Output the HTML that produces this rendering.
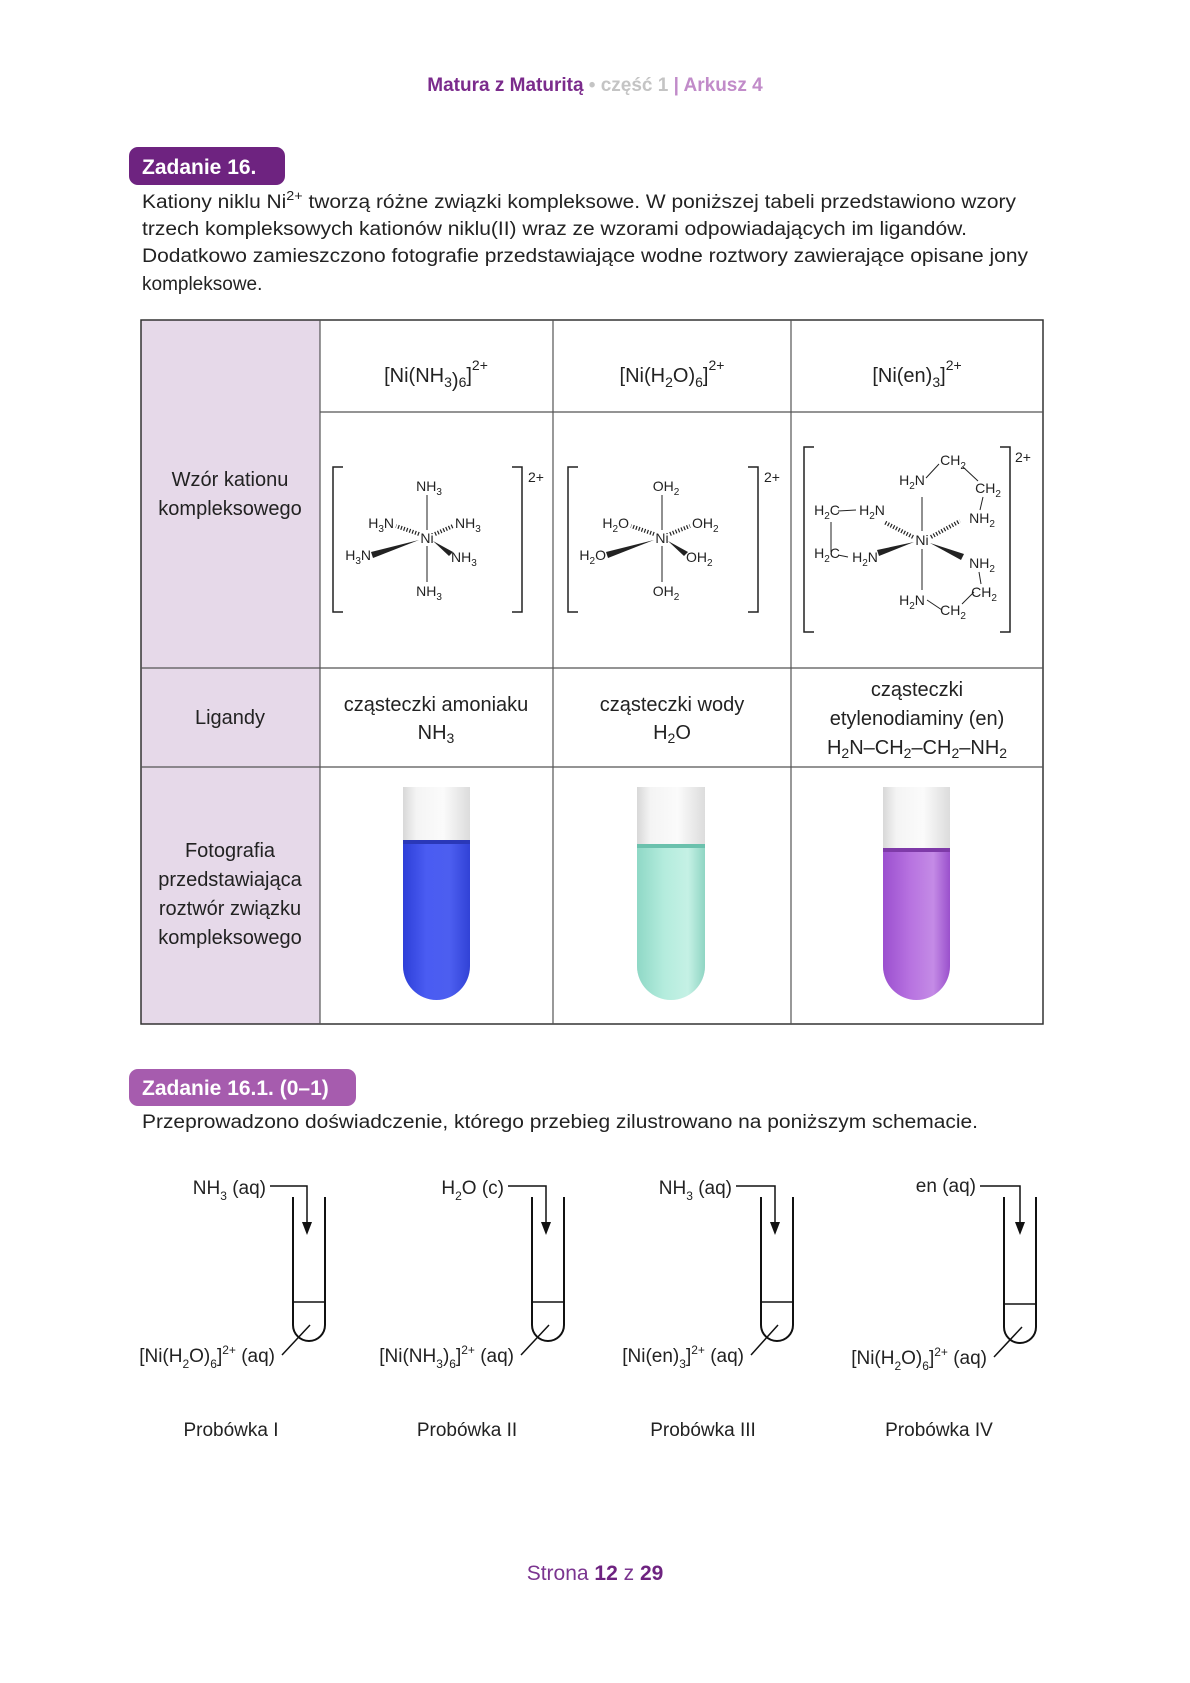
<!DOCTYPE html>
<html><head><meta charset="utf-8">
<style>
html,body{margin:0;padding:0;background:#fff;}
svg{display:block;}
text{font-family:"Liberation Sans",sans-serif;}
</style></head>
<body>
<svg width="1190" height="1683" viewBox="0 0 1190 1683" xmlns="http://www.w3.org/2000/svg">
<defs>
<linearGradient id="glass" x1="0" x2="1" y1="0" y2="0">
<stop offset="0" stop-color="#d8d8d8"/><stop offset="0.2" stop-color="#f4f4f4"/><stop offset="0.6" stop-color="#fbfbfb"/><stop offset="1" stop-color="#dcdcdc"/></linearGradient>
<linearGradient id="blue" x1="0" x2="1"><stop offset="0" stop-color="#2d3fd8"/><stop offset="0.35" stop-color="#4a5cf2"/><stop offset="0.7" stop-color="#4c5ef0"/><stop offset="1" stop-color="#3142d6"/></linearGradient>
<linearGradient id="green" x1="0" x2="1"><stop offset="0" stop-color="#8fd8c6"/><stop offset="0.4" stop-color="#b4ecdd"/><stop offset="0.75" stop-color="#c5f1e5"/><stop offset="1" stop-color="#8fd5c3"/></linearGradient>
<linearGradient id="violet" x1="0" x2="1"><stop offset="0" stop-color="#9b4fcf"/><stop offset="0.4" stop-color="#b772e0"/><stop offset="0.75" stop-color="#c48be6"/><stop offset="1" stop-color="#9a50cc"/></linearGradient>
</defs>

<!-- header -->
<text x="595" y="91" text-anchor="middle" font-size="19" font-weight="bold"><tspan fill="#7b2b8c">Matura z Maturitą</tspan><tspan fill="#c4c4c4"> • część 1 </tspan><tspan fill="#c18bc9">| Arkusz 4</tspan></text>

<!-- badge 1 -->
<rect x="129" y="147" width="156" height="38" rx="9" fill="#6e2380"/>
<text x="142" y="174" font-size="21" font-weight="bold" fill="#fff">Zadanie 16.</text>

<g font-size="19" fill="#222">
<text x="142" y="208" textLength="874" lengthAdjust="spacingAndGlyphs">Kationy niklu Ni<tspan dy="-8" font-size="13">2+</tspan><tspan dy="8"> tworzą różne związki kompleksowe. W poniższej tabeli przedstawiono wzory</tspan></text>
<text x="142" y="235" textLength="825" lengthAdjust="spacingAndGlyphs">trzech kompleksowych kationów niklu(II) wraz ze wzorami odpowiadających im ligandów.</text>
<text x="142" y="262" textLength="886" lengthAdjust="spacingAndGlyphs">Dodatkowo zamieszczono fotografie przedstawiające wodne roztwory zawierające opisane jony</text>
<text x="142" y="290">kompleksowe.</text>
</g>

<!-- table -->
<rect x="141" y="320" width="179" height="704" fill="#e6d9e9"/>
<g stroke="#555" stroke-width="1.2" fill="none">
<rect x="141" y="320" width="902" height="704" stroke="#333" stroke-width="1.5"/>
<line x1="320" y1="320" x2="320" y2="1024"/>
<line x1="553" y1="320" x2="553" y2="1024"/>
<line x1="791" y1="320" x2="791" y2="1024"/>
<line x1="320" y1="412" x2="1043" y2="412"/>
<line x1="141" y1="668" x2="1043" y2="668"/>
<line x1="141" y1="767" x2="1043" y2="767"/>
</g>

<g font-size="20" fill="#222" text-anchor="middle">
<text x="436" y="382">[Ni(NH<tspan dy="5" font-size="14">3</tspan><tspan dy="0">)</tspan><tspan dy="0" font-size="14">6</tspan><tspan dy="-5">]</tspan><tspan dy="-12" font-size="14">2+</tspan></text>
<text x="672" y="382">[Ni(H<tspan dy="5" font-size="14">2</tspan><tspan dy="-5">O)</tspan><tspan dy="5" font-size="14">6</tspan><tspan dy="-5">]</tspan><tspan dy="-12" font-size="14">2+</tspan></text>
<text x="917" y="382">[Ni(en)<tspan dy="5" font-size="14">3</tspan><tspan dy="-5">]</tspan><tspan dy="-12" font-size="14">2+</tspan></text>

<text x="230" y="486">Wzór kationu</text>
<text x="230" y="515">kompleksowego</text>
<text x="230" y="724">Ligandy</text>
<text x="436" y="711">cząsteczki amoniaku</text>
<text x="436" y="739">NH<tspan dy="4" font-size="14">3</tspan></text>
<text x="672" y="711">cząsteczki wody</text>
<text x="672" y="739">H<tspan dy="4" font-size="14">2</tspan><tspan dy="-4">O</tspan></text>
<text x="917" y="696">cząsteczki</text>
<text x="917" y="725">etylenodiaminy (en)</text>
<text x="917" y="754">H<tspan dy="4" font-size="14">2</tspan><tspan dy="-4">N–CH</tspan><tspan dy="4" font-size="14">2</tspan><tspan dy="-4">–CH</tspan><tspan dy="4" font-size="14">2</tspan><tspan dy="-4">–NH</tspan><tspan dy="4" font-size="14">2</tspan></text>
<text x="230" y="857">Fotografia</text>
<text x="230" y="886">przedstawiająca</text>
<text x="230" y="915">roztwór związku</text>
<text x="230" y="944">kompleksowego</text>
</g>

<!-- molecule 1 -->
<g transform="translate(427,538)" font-size="14" fill="#222" stroke="#222">
<path d="M-84,-71 h-10 v145 h10 M85,-71 h10 v145 h-10" fill="none" stroke-width="1.5"/>
<text x="101" y="-56" stroke="none">2+</text>
<text x="0" y="5" text-anchor="middle" stroke="none">Ni</text>
<line x1="0" y1="-43" x2="0" y2="-8" stroke-width="1"/>
<line x1="0" y1="8" x2="0" y2="44" stroke-width="1"/>
<text x="2" y="-47" text-anchor="middle" stroke="none">NH<tspan dy="4" font-size="10">3</tspan></text>
<text x="2" y="58" text-anchor="middle" stroke="none">NH<tspan dy="4" font-size="10">3</tspan></text>
<text x="-33" y="-10" text-anchor="end" stroke="none">H<tspan dy="4" font-size="10">3</tspan><tspan dy="-4">N</tspan></text>
<text x="28" y="-10" stroke="none">NH<tspan dy="4" font-size="10">3</tspan></text>
<text x="-56" y="22" text-anchor="end" stroke="none">H<tspan dy="4" font-size="10">3</tspan><tspan dy="-4">N</tspan></text>
<text x="24" y="24" stroke="none">NH<tspan dy="4" font-size="10">3</tspan></text>
<line x1="-8" y1="-4" x2="-31" y2="-12" stroke-width="4" stroke-dasharray="1.2 1.8"/>
<line x1="8" y1="-4" x2="26" y2="-12" stroke-width="4" stroke-dasharray="1.2 1.8"/>
<polygon points="-8,2 -56,14 -54,20" stroke="none"/>
<polygon points="6,3 26,14 22,18" stroke="none"/>
</g>

<!-- molecule 2 -->
<g transform="translate(662,538)" font-size="14" fill="#222" stroke="#222">
<path d="M-84,-71 h-10 v145 h10 M86,-71 h10 v145 h-10" fill="none" stroke-width="1.5"/>
<text x="102" y="-56" stroke="none">2+</text>
<text x="0" y="5" text-anchor="middle" stroke="none">Ni</text>
<line x1="0" y1="-43" x2="0" y2="-8" stroke-width="1"/>
<line x1="0" y1="8" x2="0" y2="44" stroke-width="1"/>
<text x="4" y="-47" text-anchor="middle" stroke="none">OH<tspan dy="4" font-size="10">2</tspan></text>
<text x="4" y="58" text-anchor="middle" stroke="none">OH<tspan dy="4" font-size="10">2</tspan></text>
<text x="-33" y="-10" text-anchor="end" stroke="none">H<tspan dy="4" font-size="10">2</tspan><tspan dy="-4">O</tspan></text>
<text x="30" y="-10" stroke="none">OH<tspan dy="4" font-size="10">2</tspan></text>
<text x="-56" y="22" text-anchor="end" stroke="none">H<tspan dy="4" font-size="10">2</tspan><tspan dy="-4">O</tspan></text>
<text x="24" y="24" stroke="none">OH<tspan dy="4" font-size="10">2</tspan></text>
<line x1="-8" y1="-4" x2="-31" y2="-12" stroke-width="4" stroke-dasharray="1.2 1.8"/>
<line x1="8" y1="-4" x2="28" y2="-12" stroke-width="4" stroke-dasharray="1.2 1.8"/>
<polygon points="-8,2 -56,14 -54,20" stroke="none"/>
<polygon points="6,3 26,14 22,18" stroke="none"/>
</g>

<!-- molecule 3 -->
<g transform="translate(922,540)" font-size="14" fill="#222" stroke="#222">
<path d="M-108,-93 h-10 v185 h10 M78,-93 h10 v185 h-10" fill="none" stroke-width="1.5"/>
<text x="93" y="-78" stroke="none">2+</text>
<text x="0" y="5" text-anchor="middle" stroke="none">Ni</text>
<line x1="0" y1="-43" x2="0" y2="-9" stroke-width="1"/>
<line x1="0" y1="9" x2="0" y2="50" stroke-width="1"/>
<g stroke="none" text-anchor="middle">
<text x="-10" y="-55">H<tspan dy="4" font-size="10">2</tspan><tspan dy="-4">N</tspan></text>
<text x="31" y="-75">CH<tspan dy="4" font-size="10">2</tspan></text>
<text x="66" y="-47">CH<tspan dy="4" font-size="10">2</tspan></text>
<text x="60" y="-17">NH<tspan dy="4" font-size="10">2</tspan></text>
<text x="-50" y="-25">H<tspan dy="4" font-size="10">2</tspan><tspan dy="-4">N</tspan></text>
<text x="-95" y="-25">H<tspan dy="4" font-size="10">2</tspan><tspan dy="-4">C</tspan></text>
<text x="-95" y="18">H<tspan dy="4" font-size="10">2</tspan><tspan dy="-4">C</tspan></text>
<text x="-57" y="22">H<tspan dy="4" font-size="10">2</tspan><tspan dy="-4">N</tspan></text>
<text x="60" y="28">NH<tspan dy="4" font-size="10">2</tspan></text>
<text x="62" y="57">CH<tspan dy="4" font-size="10">2</tspan></text>
<text x="-10" y="65">H<tspan dy="4" font-size="10">2</tspan><tspan dy="-4">N</tspan></text>
<text x="31" y="75">CH<tspan dy="4" font-size="10">2</tspan></text>
</g>
<g stroke-width="1" fill="none">
<line x1="4" y1="-62" x2="17" y2="-76"/>
<line x1="41" y1="-73" x2="56" y2="-59"/>
<line x1="61" y1="-43" x2="58" y2="-30"/>
<line x1="-84" y1="-29" x2="-66" y2="-30"/>
<line x1="-91" y1="-18" x2="-91" y2="12"/>
<line x1="-84" y1="15" x2="-74" y2="17"/>
<line x1="57" y1="32" x2="59" y2="44"/>
<line x1="52" y1="52" x2="40" y2="64"/>
<line x1="5" y1="60" x2="20" y2="70"/>
</g>
<line x1="-9" y1="-3" x2="-38" y2="-18" stroke-width="4" stroke-dasharray="1.2 1.8"/>
<line x1="9" y1="-3" x2="38" y2="-19" stroke-width="4" stroke-dasharray="1.2 1.8"/>
<polygon points="-8,2 -45,10 -43,16" stroke="none"/>
<polygon points="8,3 42,14 39,20" stroke="none"/>
</g>

<!-- photo tubes -->
<g>
<path d="M403,787 V966 A33.5,34 0 0 0 470,966 V787 Z" fill="url(#glass)"/>
<path d="M403,842 V966 A33.5,34 0 0 0 470,966 V842 Z" fill="url(#blue)"/>
<rect x="403" y="840" width="67" height="4" fill="#2a38b8"/>
<path d="M637,787 V966 A34,34 0 0 0 705,966 V787 Z" fill="url(#glass)"/>
<path d="M637,846 V966 A34,34 0 0 0 705,966 V846 Z" fill="url(#green)"/>
<rect x="637" y="844" width="68" height="4" fill="#6bc1ad"/>
<path d="M883,787 V966 A33.5,34 0 0 0 950,966 V787 Z" fill="url(#glass)"/>
<path d="M883,850 V966 A33.5,34 0 0 0 950,966 V850 Z" fill="url(#violet)"/>
<rect x="883" y="848" width="67" height="4" fill="#7e3aa8"/>
</g>

<!-- badge 2 -->
<rect x="129" y="1069" width="227" height="37" rx="9" fill="#a65cae"/>
<text x="142" y="1095" font-size="21" font-weight="bold" fill="#fff">Zadanie 16.1. (0–1)</text>
<text x="142" y="1128" font-size="19" fill="#222" textLength="836" lengthAdjust="spacingAndGlyphs">Przeprowadzono doświadczenie, którego przebieg zilustrowano na poniższym schemacie.</text>

<!-- experiment tubes -->
<g fill="none" stroke="#111" stroke-width="2">
<path d="M293,1197 V1325 A16,16 0 0 0 325,1325 V1197"/><line x1="293" y1="1302" x2="325" y2="1302" stroke-width="1.5"/>
<path d="M532,1197 V1325 A16,16 0 0 0 564,1325 V1197"/><line x1="532" y1="1302" x2="564" y2="1302" stroke-width="1.5"/>
<path d="M761,1197 V1325 A16,16 0 0 0 793,1325 V1197"/><line x1="761" y1="1302" x2="793" y2="1302" stroke-width="1.5"/>
<path d="M1004,1197 V1327 A16,16 0 0 0 1036,1327 V1197"/><line x1="1004" y1="1304" x2="1036" y2="1304" stroke-width="1.5"/>
<g stroke-width="1.5">
<path d="M270,1186 H307 V1224"/>
<path d="M508,1186 H546 V1224"/>
<path d="M736,1186 H775 V1224"/>
<path d="M980,1186 H1020 V1224"/>
<line x1="282" y1="1355" x2="310" y2="1325"/>
<line x1="521" y1="1355" x2="549" y2="1325"/>
<line x1="751" y1="1355" x2="778" y2="1325"/>
<line x1="994" y1="1357" x2="1022" y2="1327"/>
</g>
</g>
<g fill="#111">
<polygon points="302,1222 312,1222 307,1235"/>
<polygon points="541,1222 551,1222 546,1235"/>
<polygon points="770,1222 780,1222 775,1235"/>
<polygon points="1015,1222 1025,1222 1020,1235"/>
</g>
<g font-size="19" fill="#222">
<text x="266" y="1194" text-anchor="end">NH<tspan dy="6" font-size="12">3</tspan><tspan dy="-6"> (aq)</tspan></text>
<text x="504" y="1194" text-anchor="end">H<tspan dy="6" font-size="12">2</tspan><tspan dy="-6">O (c)</tspan></text>
<text x="732" y="1194" text-anchor="end">NH<tspan dy="6" font-size="12">3</tspan><tspan dy="-6"> (aq)</tspan></text>
<text x="976" y="1192" text-anchor="end">en (aq)</text>
<text x="275" y="1362" text-anchor="end">[Ni(H<tspan dy="6" font-size="12">2</tspan><tspan dy="-6">O)</tspan><tspan dy="6" font-size="12">6</tspan><tspan dy="-6">]</tspan><tspan dy="-8" font-size="12">2+</tspan><tspan dy="8"> (aq)</tspan></text>
<text x="514" y="1362" text-anchor="end">[Ni(NH<tspan dy="6" font-size="12">3</tspan><tspan dy="-6">)</tspan><tspan dy="6" font-size="12">6</tspan><tspan dy="-6">]</tspan><tspan dy="-8" font-size="12">2+</tspan><tspan dy="8"> (aq)</tspan></text>
<text x="744" y="1362" text-anchor="end">[Ni(en)<tspan dy="6" font-size="12">3</tspan><tspan dy="-6">]</tspan><tspan dy="-8" font-size="12">2+</tspan><tspan dy="8"> (aq)</tspan></text>
<text x="987" y="1364" text-anchor="end">[Ni(H<tspan dy="6" font-size="12">2</tspan><tspan dy="-6">O)</tspan><tspan dy="6" font-size="12">6</tspan><tspan dy="-6">]</tspan><tspan dy="-8" font-size="12">2+</tspan><tspan dy="8"> (aq)</tspan></text>
<g text-anchor="middle">
<text x="231" y="1436">Probówka I</text>
<text x="467" y="1436">Probówka II</text>
<text x="703" y="1436">Probówka III</text>
<text x="939" y="1436">Probówka IV</text>
</g>
</g>

<!-- footer -->
<text x="595" y="1580" text-anchor="middle" font-size="21" fill="#7b3590">Strona <tspan font-weight="bold" fill="#6e2380">12</tspan> z <tspan font-weight="bold" fill="#6e2380">29</tspan></text>
</svg>
</body></html>
